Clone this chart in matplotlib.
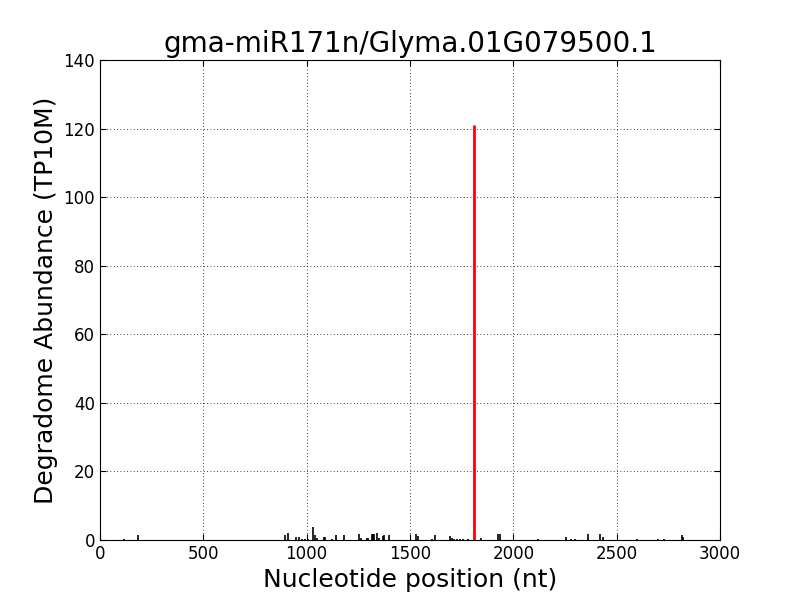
import numpy as np
from matplotlib import pyplot as plt

# degradome tags along the transcript (position nt, abundance TP10M)
pos = [116, 184, 895, 908, 948, 963, 975, 990, 1005, 1032, 1040, 1048, 1083, 1087,
       1121, 1143, 1182, 1255, 1263, 1290, 1298, 1318, 1323, 1327, 1339, 1350,
       1368, 1376, 1400, 1529, 1539, 1605, 1621, 1694, 1702, 1715, 1727, 1740,
       1755, 1781, 1842, 1926, 1935, 2120, 2255, 2278, 2299, 2362, 2419, 2432,
       2599, 2699, 2731, 2815, 2823]
abund = [0.3, 1.5, 1.5, 2.0, 1.0, 1.0, 0.4, 0.4, 0.4, 3.8, 1.5, 0.5, 1.0, 1.0,
         0.4, 1.5, 1.5, 1.8, 0.5, 0.5, 0.5, 1.8, 1.8, 1.8, 2.0, 0.6,
         1.2, 1.5, 1.5, 1.8, 1.2, 0.4, 1.5, 1.2, 0.5, 0.4, 0.4, 0.4,
         0.4, 0.4, 0.7, 1.8, 1.8, 0.4, 0.8, 0.4, 0.4, 1.8, 1.8, 0.8,
         0.4, 0.4, 0.4, 1.5, 0.9]
site_pos = 1810
site_abund = 121

fig = plt.figure(figsize=(8, 6), dpi=100, facecolor='white')
ax = fig.add_axes([0.125, 0.1, 0.775, 0.8])
ax.vlines(pos, 0, abund, colors='black', linewidth=1.2)
ax.vlines([site_pos], 0, [site_abund], colors='red', linewidth=2)
ax.set_xlim(0, 3000)
ax.set_ylim(0, 140)
ax.set_xticks(np.arange(0, 3001, 500))
ax.set_yticks(np.arange(0, 141, 20))
ax.grid(True, color='black', linestyle=(0, (1, 3)), linewidth=0.6)
ax.tick_params(direction='in', labelsize=12, top=True, right=True, length=4)
ax.set_title("gma-miR171n/Glyma.01G079500.1", fontsize=20)
ax.set_xlabel("Nucleotide position (nt)", fontsize=18)
ax.set_ylabel("Degradome Abundance (TP10M)", fontsize=18)
fig.savefig("out.png", dpi=100)
